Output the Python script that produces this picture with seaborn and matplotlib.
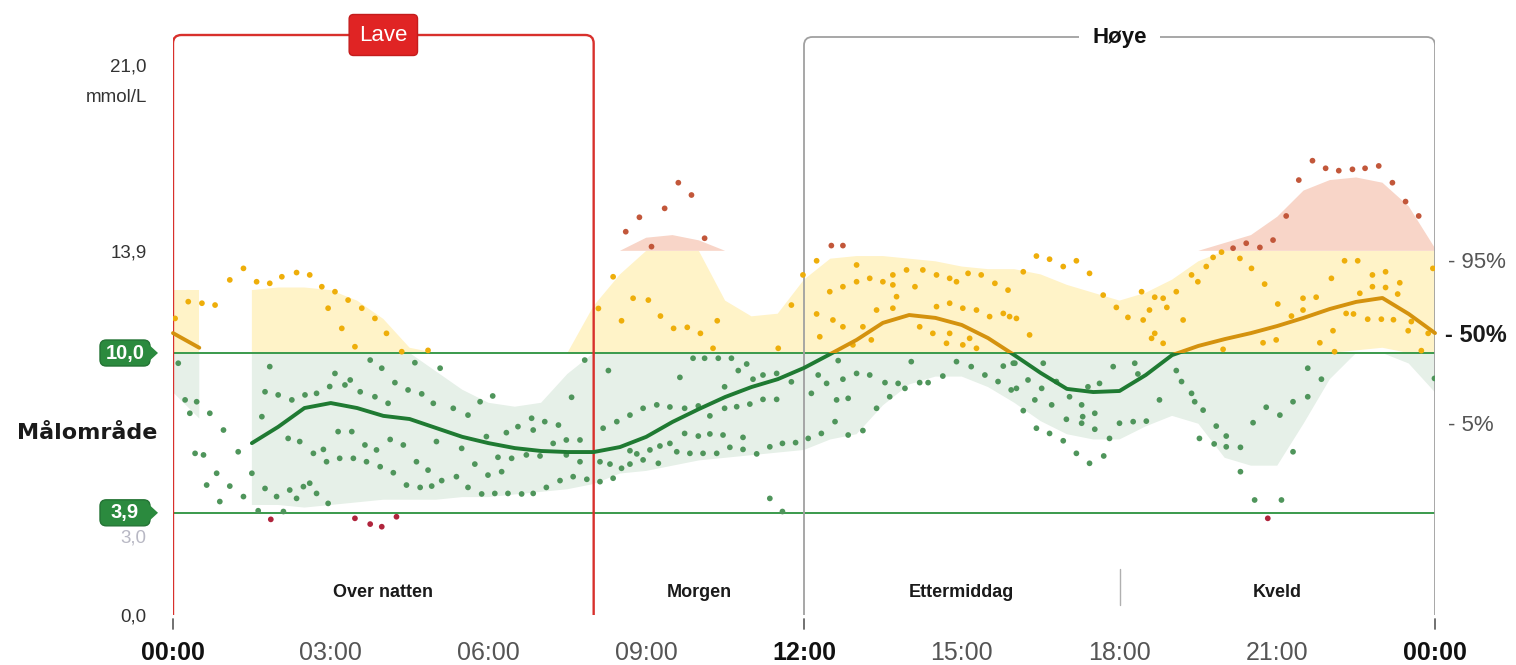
import numpy as np
import pandas as pd
import matplotlib
matplotlib.use("Agg")
import matplotlib.pyplot as plt
import seaborn as sns
from matplotlib.patches import Rectangle, FancyBboxPatch, Polygon

# ---------------- data ----------------
hour_ticks = [0, 3, 6, 9, 12, 15, 18, 21, 24]
hour_labels = ["00:00", "03:00", "06:00", "09:00", "12:00", "15:00", "18:00", "21:00", "00:00"]
bold_hours = [0, 12, 24]

ytick_values = [0.0, 3.0, 13.9, 21.0]
ytick_labels = ["0,0", "3,0", "13,9", "21,0"]
unit_label = "mmol/L"

target_low = 3.9
target_high = 10.0
very_high = 13.9

periods = ["Over natten", "Morgen", "Ettermiddag", "Kveld"]
period_centers = [4, 10, 15, 21]

pct_labels = ["- 95%", "- 50%", "- 5%"]
pct_levels = [13.45, 10.67, 7.25]

low_window = (0, 8)      # "Lave"
high_window = (12, 24)   # "Høye"

# percentile band (5% / 95%) and median, every half hour (NaN = no data)
band_hours = [0, 0.5, 1.0, 1.5, 2, 2.5, 3, 3.5, 4, 4.5, 5, 5.5, 6, 6.5, 7, 7.5, 8,
              8.5, 9, 9.5, 10, 10.5, 11, 11.5, 12, 12.5, 13, 13.5, 14, 14.5, 15, 15.5,
              16, 16.5, 17, 17.5, 18, 18.5, 19, 19.5, 20, 20.5, 21, 21.5, 22, 22.5, 23,
              23.5, 24]
p95 = [12.4, 12.4, np.nan, 12.4, 12.5, 12.5, 12.4, 12.0, 11.3, 10.2, 9.3, 8.6, 8.1, 7.95,
       8.1, 9.2, 11.8, 13.0, 14.4, 14.5, 14.3, 12.0, 11.4, 11.5, 12.8, 13.6, 13.7, 13.7,
       13.6, 13.5, 13.3, 13.2, 13.2, 13.0, 12.6, 12.3, 12.0, 12.3, 12.8, 13.5, 14.2, 14.5,
       15.2, 16.2, 16.6, 16.7, 16.5, 15.6, 14.0]
p5 = [8.5, 7.5, np.nan, 4.2, 4.2, 4.1, 4.2, 4.3, 4.4, 4.4, 4.4, 4.5, 4.5, 4.6, 4.7, 4.8,
      5.0, 5.4, 5.5, 5.7, 5.9, 6.0, 6.1, 6.2, 6.3, 6.7, 6.9, 8.0, 8.8, 9.1, 9.1, 8.7, 8.1,
      7.4, 6.9, 6.7, 6.7, 7.2, 7.6, 7.3, 6.0, 5.7, 5.7, 7.3, 9.0, 10.1, 10.2, 9.6, 8.5]
median = [10.76, 10.2, np.nan, 6.56, 7.18, 7.9, 8.09, 7.9, 7.6, 7.48, 7.14, 6.8, 6.56,
          6.37, 6.26, 6.22, 6.22, 6.41, 6.8, 7.37, 7.86, 8.32, 8.7, 9.0, 9.43, 9.96, 10.5,
          11.15, 11.45, 11.34, 11.07, 10.57, 9.92, 9.24, 8.63, 8.51, 8.55, 9.16, 9.92,
          10.27, 10.53, 10.76, 11.03, 11.34, 11.68, 11.95, 12.1, 11.49, 10.76]

# individual readings (hour of day, mmol/L)
reading_hours = [
    0.04, 0.29, 0.55, 0.80, 1.08, 1.34, 1.59, 1.84, 2.07, 2.35, 2.60, 2.83, 3.08, 3.33, 3.59, 3.84, 2.95, 3.21, 3.46,
    4.06, 4.35, 4.85,
    0.10, 0.23, 0.45, 0.32, 0.70, 0.96, 0.42, 0.58, 0.83, 0.64, 1.08, 0.89, 1.34, 1.24, 1.50, 1.69, 1.84, 1.75, 2.0,
    2.26, 2.51, 2.73, 2.98, 3.08, 3.27, 3.37, 3.56, 3.75, 3.97, 3.84, 2.19, 2.41, 2.67, 2.86, 2.92, 3.17, 3.40, 3.14,
    3.43, 3.65, 3.68, 3.87, 3.94, 1.75, 1.97, 2.22, 2.35, 2.48, 2.60, 2.73, 2.95, 1.62, 2.10,
    1.86, 3.46, 3.75, 3.97,
    4.60, 5.08, 4.22, 4.47, 4.73, 4.09, 4.95, 5.33, 5.61, 5.84, 6.08, 7.58, 7.83, 6.82, 7.07, 7.33, 6.56, 6.34, 6.85,
    4.13, 4.38, 5.01, 5.49, 5.96, 6.18, 6.44, 6.72, 7.23, 7.48, 7.74, 7.74, 4.63, 4.85, 4.19, 5.74, 5.99, 6.25, 4.44,
    4.70, 4.92, 5.11, 5.39, 5.61, 5.87, 6.12, 6.37, 6.63, 6.85, 7.10, 7.36, 7.61, 7.87, 6.98, 7.48,
    4.25,
    9.61, 9.86, 9.35, 8.87, 8.61, 9.10, 10.11,
    8.09, 8.37, 8.53, 8.75, 9.04, 9.27, 9.52, 9.78, 10.03, 10.35, 10.27, 11.51, 11.76, 11.98,
    8.28, 9.64, 9.89, 10.11, 10.37, 10.62, 10.91, 10.75, 11.03, 11.22, 11.48, 11.76, 10.49, 11.22, 11.48, 10.97,
    10.72, 10.49, 10.21, 9.99, 9.73, 9.45, 9.20, 8.94, 8.69, 8.44, 8.18, 9.73, 9.99, 10.21, 10.46, 10.84, 11.35,
    11.59, 11.84, 10.59, 10.84, 11.10, 10.34, 10.08, 9.83, 9.58, 9.45, 9.26, 9.07, 8.82, 8.69, 9.23, 8.94, 8.69,
    8.53, 8.31, 8.12, 8.12, 8.37, 11.35, 11.59,
    12.52, 12.74,
    12.24, 13.0, 12.49, 12.74, 13.0, 13.25, 13.50, 13.69, 13.95, 14.26, 14.52, 14.77, 14.90, 15.12, 15.37, 15.63,
    15.88, 13.69, 14.11, 13.76, 13.38, 13.69, 14.52, 14.77, 15.02, 15.28, 15.53, 15.79, 12.24, 12.55, 12.74, 13.12,
    12.30, 12.93, 13.28, 14.20, 14.45, 14.77, 14.71, 15.02, 15.15, 15.28,
    12.14, 12.27, 12.43, 12.65, 12.74, 13.0, 13.25, 13.54, 13.79, 13.92, 14.20, 14.36, 14.04, 14.64, 14.90, 15.18,
    15.44, 15.69, 15.79, 15.98, 15.94, 12.62, 12.84, 13.63, 13.38, 12.59, 12.33, 12.08, 12.84, 13.12,
    15.91, 16.04, 16.17, 16.42, 16.67, 16.93, 17.18, 17.43, 17.69, 17.94, 18.16, 18.42, 18.57, 18.45, 18.67, 18.83,
    18.90, 19.08, 19.21, 19.37, 19.49, 19.65, 19.78, 19.94, 18.67, 18.61, 18.83, 16.29,
    16.01, 16.55, 16.26, 16.52, 16.80, 16.04, 16.39, 16.71, 17.05, 16.17, 16.99, 17.28, 17.30, 17.53, 17.40, 17.62,
    17.88, 18.29, 18.35, 16.42, 16.67, 17.28, 17.53, 17.81, 18.0, 18.26, 18.51, 18.76, 16.93, 17.18, 17.43, 17.70,
    19.08, 19.18, 19.37, 19.43, 19.59, 19.84, 20.03, 19.52, 19.80, 20.03,
    21.67, 21.92, 22.17, 22.43, 22.67, 22.93, 21.41, 23.19, 23.44, 23.69, 21.17, 20.92, 20.67, 20.41, 20.16,
    20.29, 20.51, 20.76, 21.01, 21.27, 21.49, 21.74, 22.03, 22.28, 22.53, 22.81, 23.06, 23.33, 22.81, 23.06, 22.57,
    23.29, 22.31, 22.45, 22.72, 22.98, 23.21, 23.55, 23.49, 23.87, 23.96, 23.74, 22.06, 21.81, 22.09, 20.98, 20.73,
    19.97, 21.49,
    21.58, 21.84, 21.58, 21.30, 20.79, 21.05, 20.54, 20.30, 21.30, 20.30, 20.57, 21.08, 23.99,
    20.82,
]
reading_values = [
    11.32, 11.96, 11.9, 11.83, 12.79, 13.23, 12.72, 12.66, 12.91, 13.07, 12.98, 12.53, 12.34, 12.02, 11.71, 11.32, 11.71, 10.94, 10.24,
    10.75, 10.05, 10.1,
    9.61, 8.21, 8.14, 7.70, 7.70, 7.06, 6.17, 6.11, 5.41, 4.96, 4.92, 4.33, 4.52, 6.23, 5.41, 7.57, 9.48, 8.52, 8.40,
    8.21, 8.40, 8.46, 8.72, 9.22, 8.78, 8.97, 8.52, 9.73, 9.42, 8.33, 6.74, 6.62, 6.17, 6.32, 5.85, 5.98, 7.0, 7.0,
    5.98, 6.49, 5.85, 6.30, 5.66, 4.83, 4.52, 4.77, 4.45, 4.90, 5.03, 4.64, 4.26, 3.98, 3.95,
    3.65, 3.69, 3.47, 3.37,
    9.63, 9.42, 8.87, 8.59, 8.44, 8.08, 8.08, 7.89, 7.63, 8.14, 8.36, 8.31, 9.73, 7.51, 7.38, 7.25, 7.19, 6.96, 7.06,
    6.70, 6.49, 6.62, 6.36, 6.81, 6.02, 5.98, 6.11, 6.55, 6.68, 6.68, 5.85, 5.85, 5.53, 5.43, 5.76, 5.34, 5.47, 4.96,
    4.87, 4.92, 5.13, 5.28, 4.87, 4.62, 4.64, 4.64, 4.62, 4.64, 4.87, 5.13, 5.28, 5.18, 6.07, 6.11,
    3.75,
    16.5, 16.03, 15.52, 15.18, 14.63, 14.06, 14.38,
    11.7, 12.91, 11.23, 12.09, 12.02, 11.41, 10.94, 10.98, 10.75, 11.23, 10.18, 10.18, 11.83, 12.98,
    9.33, 9.07, 9.8, 9.8, 9.8, 9.8, 9.58, 9.33, 9.0, 9.16, 9.22, 8.90, 8.71, 8.23, 8.23, 8.05,
    7.95, 7.89, 7.60, 7.98, 7.89, 7.94, 8.02, 7.89, 7.63, 7.38, 7.13, 6.93, 6.83, 6.91, 6.87, 6.78, 6.42,
    6.55, 6.58, 6.40, 6.32, 6.15, 6.17, 6.17, 6.17, 6.23, 6.55, 6.45, 6.30, 6.15, 6.27, 5.79, 5.92, 5.76,
    5.60, 5.76, 5.85, 5.09, 5.22, 4.45, 3.95,
    14.1, 14.1,
    13.52, 13.36, 12.34, 12.53, 12.72, 12.85, 12.72, 12.98, 13.17, 13.17, 12.98, 12.85, 12.72, 13.04, 12.98, 12.66,
    12.40, 12.60, 12.53, 12.15, 11.64, 11.71, 11.77, 11.90, 11.71, 11.64, 11.39, 11.51, 11.49, 11.26, 11.0, 11.0,
    10.62, 10.31, 10.50, 11.0, 10.75, 10.75, 10.37, 10.31, 10.56, 10.18,
    8.46, 9.16, 8.84, 9.71, 9.0, 9.22, 9.16, 8.87, 8.84, 8.65, 8.87, 8.87, 9.67, 9.12, 9.67, 9.48,
    9.16, 8.91, 9.50, 9.61, 8.59, 8.21, 8.27, 8.33, 7.89, 7.38, 6.93, 6.74, 6.87, 7.04,
    11.39, 11.32, 13.10, 13.70, 13.58, 13.30, 13.52, 13.04, 12.21, 11.74, 11.36, 12.34, 11.64, 11.26, 12.13, 12.09,
    11.74, 12.34, 11.26, 12.98, 12.72, 13.30, 13.65, 13.85, 10.75, 10.56, 10.37, 10.69,
    9.61, 9.61, 8.97, 8.65, 8.91, 8.65, 8.21, 8.02, 8.33, 7.80, 7.47, 8.02, 7.57, 7.70, 8.71, 8.84,
    9.48, 9.61, 9.20, 7.13, 6.93, 7.32, 7.09, 6.74, 7.32, 7.38, 7.40, 8.21, 6.65, 6.17, 5.79, 6.07,
    9.33, 8.91, 8.46, 8.14, 7.82, 7.21, 6.83, 6.74, 6.53, 6.42,
    17.34, 17.05, 16.96, 17.01, 17.05, 17.14, 16.60, 16.50, 15.78, 15.23, 15.23, 14.31, 14.03, 14.19, 14.0,
    13.61, 13.23, 12.63, 11.87, 11.41, 12.09, 12.13, 12.85, 13.52, 13.52, 12.98, 13.10, 12.68, 12.53, 12.50, 12.28,
    12.25, 11.51, 11.49, 11.29, 11.29, 11.27, 11.20, 10.85, 10.75, 13.23, 10.09, 10.85, 10.39, 10.05, 10.50, 10.39,
    10.14, 11.64,
    9.42, 9.0, 8.33, 8.14, 7.93, 7.63, 7.34, 6.40, 6.23, 5.47, 4.39, 4.39, 9.03,
    3.69,
]

# ---------------- style ----------------
sns.set_theme(style="white")
plt.rcParams["font.family"] = ["Liberation Sans", "DejaVu Sans"]

C_GREEN_LINE = "#1f7a32"
C_ORANGE_LINE = "#d4920e"
C_TARGET = "#3a9a4c"
C_RED = "#d8302c"
C_GREY = "#a0a0a0"
level_colors = {"low": "#b0243c", "target": "#4f955b", "high": "#eeae0a", "very_high": "#c2573a"}

PX_PER_H = 1262 / 24.0
PX_PER_V = 26.2
fig = plt.figure(figsize=(15.16, 6.65), dpi=100, facecolor="white")
ax = fig.add_axes([173 / 1516, 50 / 665, 1262 / 1516, 615 / 665])
ax.set_xlim(0, 24)
ax.set_ylim(0, 615 / PX_PER_V)
for s in ax.spines.values():
    s.set_visible(False)
ax.set_facecolor("white")

# ---- percentile band, split by glucose zone ----
bh = np.array(band_hours)
lo = np.array(p5, dtype=float)
hi = np.array(p95, dtype=float)
valid = ~np.isnan(lo)
zones = [(target_low, target_high, "#e6f0e8"), (target_high, very_high, "#fff3c8"), (very_high, 30, "#f8d5c8")]
for zlo, zhi, col in zones:
    ax.fill_between(bh, np.clip(np.nan_to_num(lo), zlo, zhi), np.clip(np.nan_to_num(hi), zlo, zhi),
                    where=valid, color=col, lw=0, zorder=1, interpolate=False)

# ---- target lines ----
ax.axhline(target_high, color=C_TARGET, lw=1.4, zorder=2)
ax.axhline(target_low, color=C_TARGET, lw=1.4, zorder=2)

# ---- readings ----
pts = pd.DataFrame({"time": reading_hours, "glucose": reading_values})
pts["level"] = np.select(
    [pts["glucose"] < target_low, pts["glucose"] <= target_high, pts["glucose"] <= very_high],
    ["low", "target", "high"], default="very_high")
sns.scatterplot(data=pts, x="time", y="glucose", hue="level", palette=level_colors,
                s=17, linewidth=0, legend=False, ax=ax, zorder=4)

# ---- median, green inside target, orange above ----
med = pd.DataFrame({"time": band_hours, "glucose": median})
med["segment"] = med["glucose"].isna().cumsum()
med = med.dropna()
for col, clip in [(C_GREEN_LINE, Rectangle((-1, -1), 26, target_high + 1)),
                  (C_ORANGE_LINE, Rectangle((-1, target_high), 26, 30))]:
    n_before = len(ax.lines)
    sns.lineplot(data=med, x="time", y="glucose", units="segment", estimator=None,
                 color=col, lw=2.8, sort=False, ax=ax, zorder=5)
    clip.set_transform(ax.transData)
    for ln in ax.lines[n_before:]:
        ln.set_clip_path(clip)
        ln.set_solid_capstyle("round")
        ln.set_solid_joinstyle("round")

# ---- Lave / Høye windows ----
TOP_LOW = (615 - 35) / PX_PER_V
TOP_HIGH = (615 - 37) / PX_PER_V
ax.add_patch(FancyBboxPatch((low_window[0], -3), low_window[1] - low_window[0], TOP_LOW + 3,
                            boxstyle="round,pad=0,rounding_size=0.16", mutation_aspect=2.0,
                            fill=False, ec=C_RED, lw=1.7, zorder=3))
ax.add_patch(FancyBboxPatch((high_window[0], -3), high_window[1] - high_window[0], TOP_HIGH + 3,
                            boxstyle="round,pad=0,rounding_size=0.16", mutation_aspect=2.0,
                            fill=False, ec=C_GREY, lw=1.3, zorder=3))
ax.text(sum(low_window) / 2, TOP_LOW, "Lave", ha="center", va="center", color="white", fontsize=16,
        zorder=7, bbox=dict(boxstyle="round,pad=0.45,rounding_size=0.2", fc="#e02424", ec="#c41c1c", lw=1))
ax.text(sum(high_window) / 2, TOP_HIGH, "Høye", ha="center", va="center", color="#111111", fontsize=16,
        fontweight="bold", zorder=7, bbox=dict(boxstyle="square,pad=0.6", fc="white", ec="none"))

# ---- period labels and divider ----
for name, c in zip(periods, period_centers):
    ax.text(c, 0.84, name, ha="center", va="center", fontsize=13, fontweight="bold", color="#1a1a1a", zorder=6)
ax.plot([18, 18], [0.4, 1.75], color="#b0b0b0", lw=1.0, zorder=3)

# ---- axes ticks ----
ax.set_xticks(hour_ticks)
ax.set_xticklabels(hour_labels)
ax.tick_params(axis="x", length=0, pad=19, labelsize=18, labelcolor="#555555")
for lab, h in zip(ax.get_xticklabels(), hour_ticks):
    if h in bold_hours:
        lab.set_fontweight("bold")
        lab.set_color("#111111")
ax.set_yticks(ytick_values)
ax.set_yticklabels(ytick_labels)
ax.tick_params(axis="y", length=0, pad=19, labelsize=13.5, labelcolor="#333333")
for lab, v in zip(ax.get_yticklabels(), ytick_values):
    if v == 3.0:
        lab.set_color("#b8b8c4")
ax.set_xlabel("")
ax.set_ylabel("")
ax.text(-26 / PX_PER_H, (615 - 97) / PX_PER_V, unit_label, ha="right", va="center", fontsize=13.5,
        color="#333333")

# small tick marks below 00:00 / 12:00 / 24:00
for h in bold_hours:
    ax.plot([h, h], [-0.15, -0.55], color="#666666", lw=1.3, clip_on=False, zorder=3)

# ---- target badges ----
for v, txt in [(target_high, "10,0"), (target_low, "3,9")]:
    x0 = -73 / PX_PER_H
    w = 50 / PX_PER_H
    hgt = 26 / PX_PER_V
    ax.add_patch(FancyBboxPatch((x0, v - hgt / 2), w, hgt, boxstyle="round,pad=0,rounding_size=0.12",
                                mutation_aspect=2.0, fc="#2b8a3e", ec="#237334", lw=1, clip_on=False, zorder=8))
    tip = Polygon([(x0 + w - 0.02, v + hgt * 0.32), (x0 + w + 8 / PX_PER_H, v), (x0 + w - 0.02, v - hgt * 0.32)],
                  closed=True, fc="#2b8a3e", ec="none", clip_on=False, zorder=8)
    ax.add_patch(tip)
    ax.text(x0 + w / 2, v, txt, ha="center", va="center", color="white", fontsize=14.5, fontweight="bold",
            zorder=9)

ax.text(-16 / PX_PER_H, (615 - 433) / PX_PER_V, "Målområde", ha="right", va="center", fontsize=16,
        fontweight="bold", color="#1a1a1a", family="DejaVu Sans")

# ---- percentile labels ----
for lab, v in zip(pct_labels, pct_levels):
    bold = "50" in lab
    ax.text(24 + (10 if bold else 13) / PX_PER_H, v, lab, ha="left", va="center",
            fontsize=17 if bold else 16, fontweight="bold" if bold else "normal",
            color="#1a1a1a" if bold else "#555555", clip_on=False)

fig.savefig("out.png", dpi=100, facecolor="white")
